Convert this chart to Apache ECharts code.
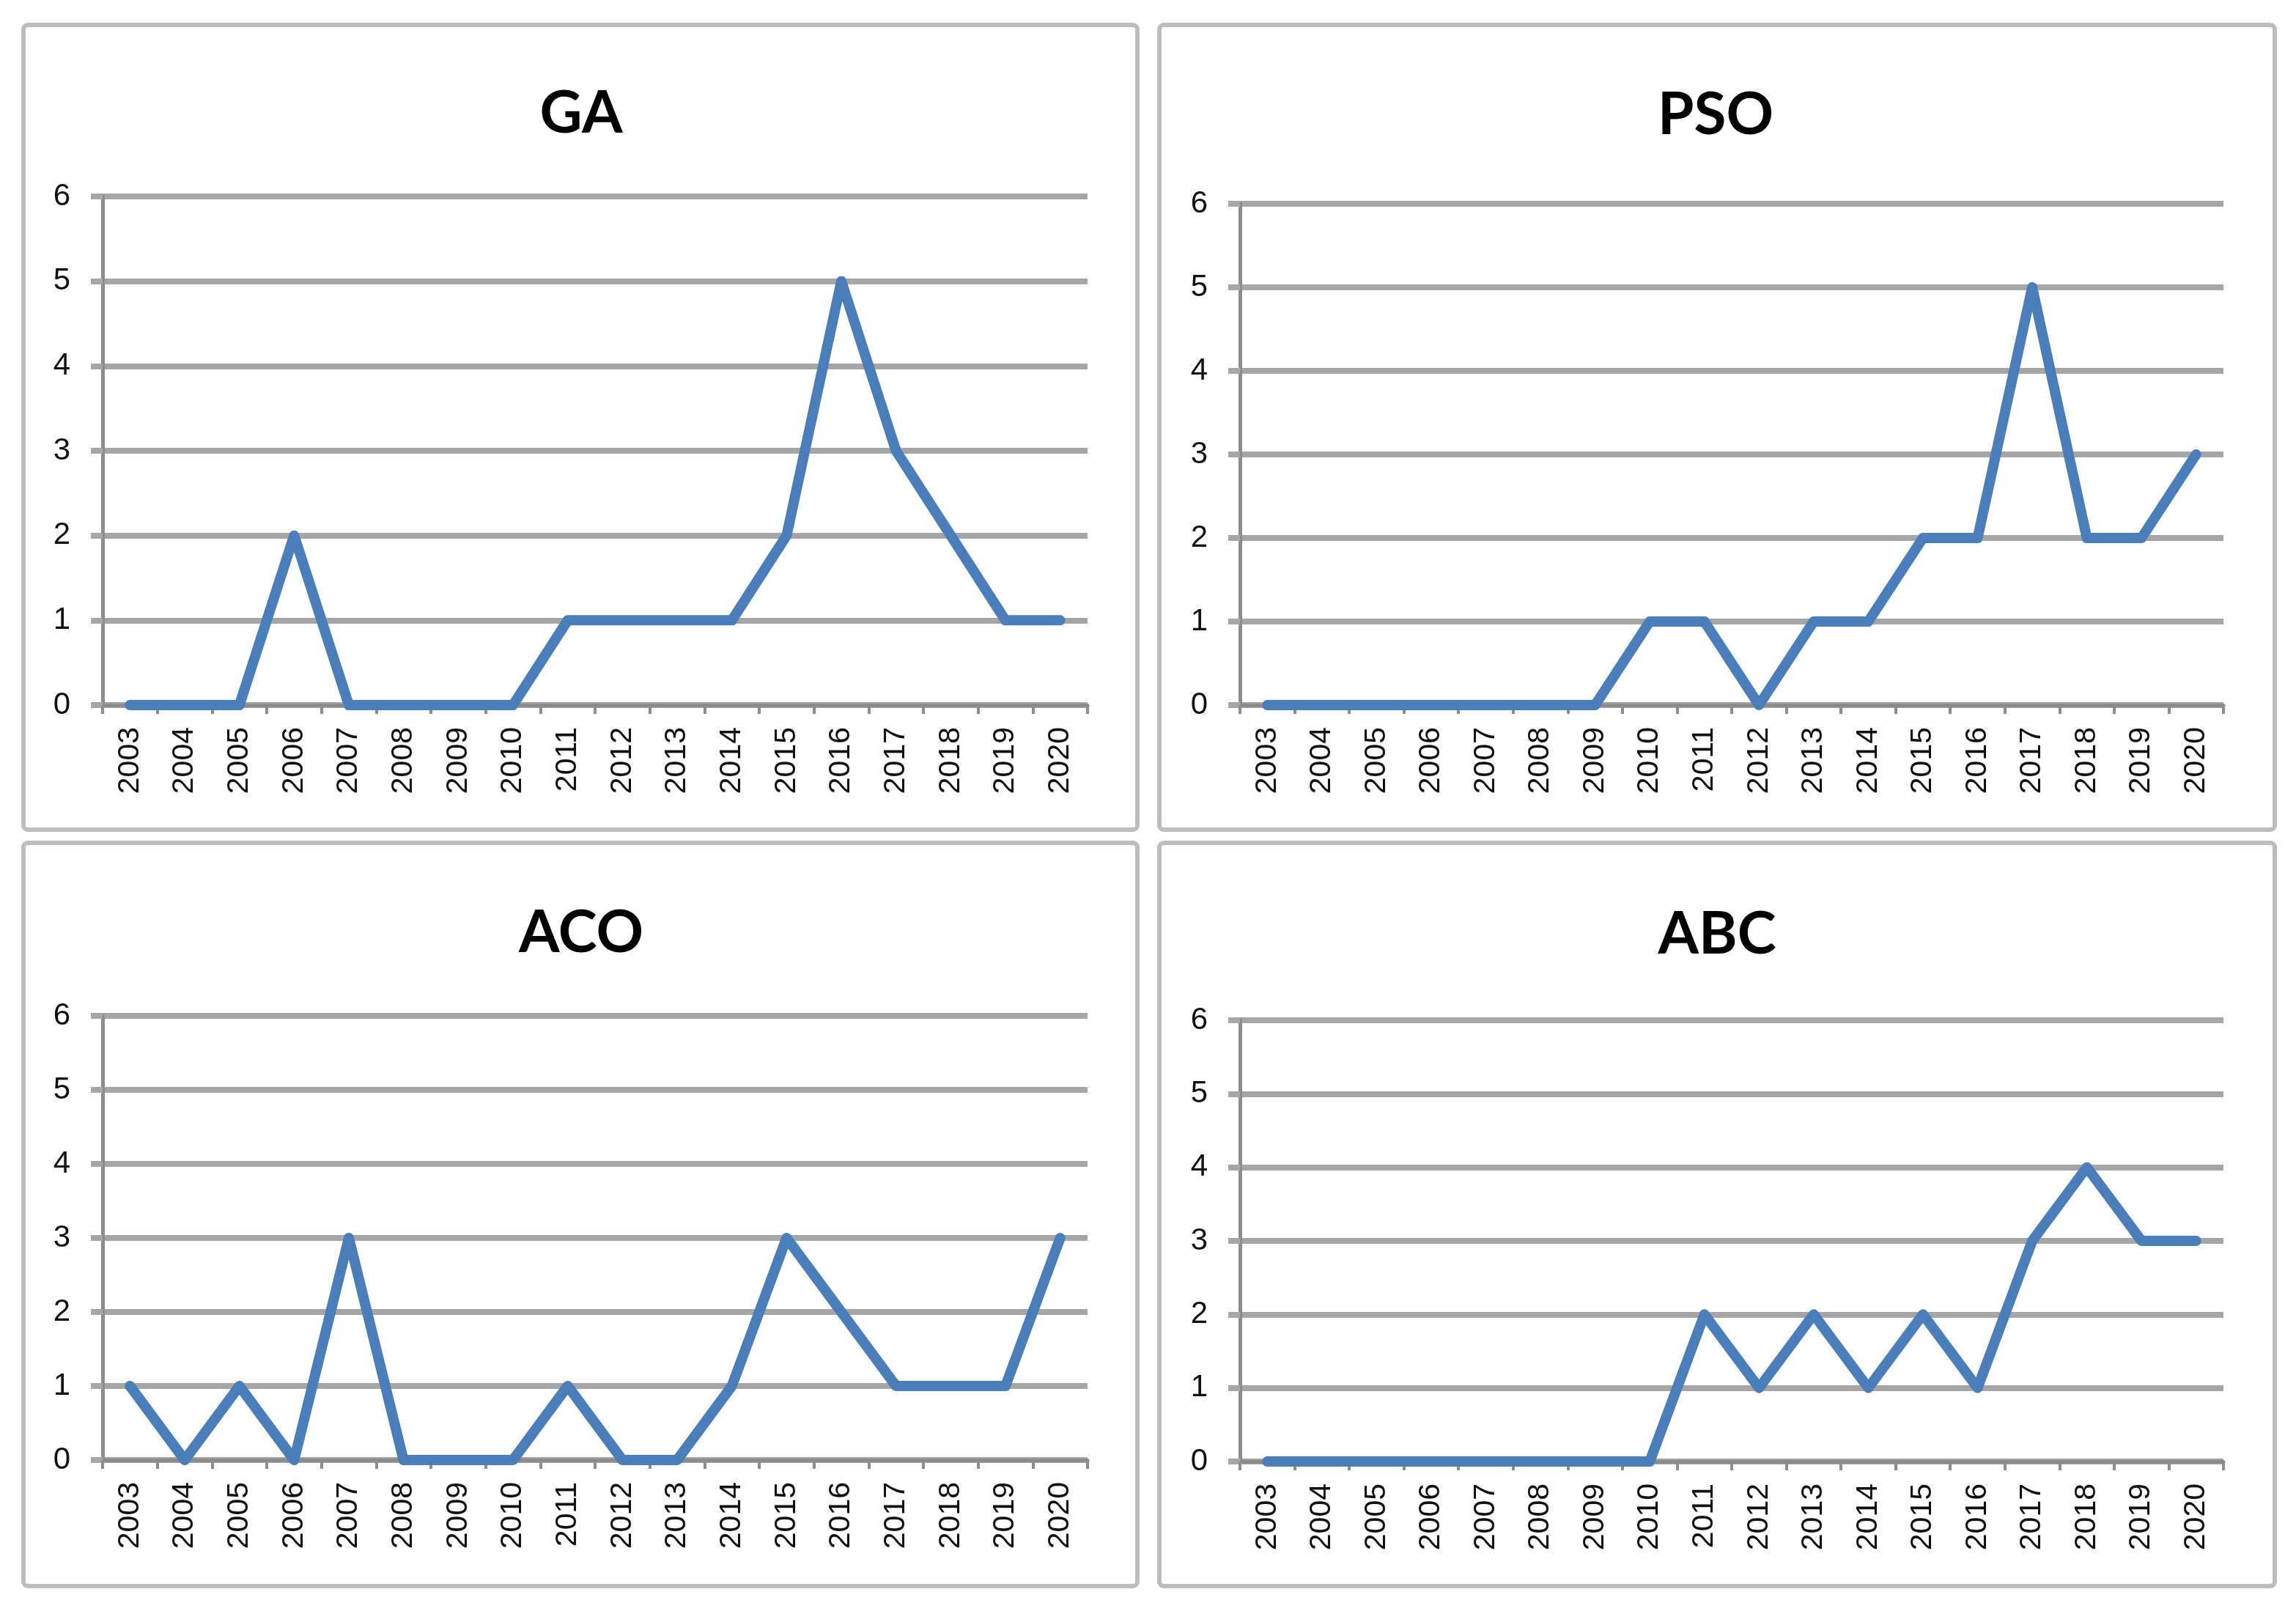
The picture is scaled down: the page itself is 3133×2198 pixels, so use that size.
<!DOCTYPE html>
<html>
<head>
<meta charset="utf-8">
<script src="https://cdn.jsdelivr.net/npm/echarts@6/dist/echarts.min.js"></script>
<style>
html,body{margin:0;padding:0;background:#fff;}
#c{width:3133px;height:2198px;}
</style>
</head>
<body>
<div id="c"></div>
<script>
const years = ['2003','2004','2005','2006','2007','2008','2009','2010','2011','2012','2013','2014','2015','2016','2017','2018','2019','2020'];
const yTicks = [0,1,2,3,4,5,6];
const titles = ['GA','PSO','ACO','ABC'];
const gaValues  = [0,0,0,2,0,0,0,0,1,1,1,1,2,5,3,2,1,1];
const psoValues = [0,0,0,0,0,0,0,1,1,0,1,1,2,2,5,2,2,3];
const acoValues = [1,0,1,0,3,0,0,0,1,0,0,1,3,2,1,1,1,3];
const abcValues = [0,0,0,0,0,0,0,0,2,1,2,1,2,1,3,4,3,3];
const seriesValues = [gaValues, psoValues, acoValues, abcValues];

const panels = [
  {x:32,  y:34,   w:1520, h:1098, grid:{left:140,  top:268,  width:1344, height:694}, tx:788,  ty:150},
  {x:1582,y:34,   w:1522, h:1098, grid:{left:1692, top:278,  width:1342, height:684}, tx:2336, ty:152},
  {x:32,  y:1150, w:1520, h:1014, grid:{left:140,  top:1386, width:1344, height:606}, tx:788,  ty:1268},
  {x:1582,y:1150, w:1522, h:1014, grid:{left:1692, top:1392, width:1342, height:602}, tx:2338, ty:1270}
];

const chart = echarts.init(document.getElementById('c'), null, {renderer:'canvas'});
const option = {
  backgroundColor:'#ffffff',
  animation:false,
  title: titles.map((t,i)=>({
    text:t, left:panels[i].tx, top:panels[i].ty, textAlign:'center', textVerticalAlign:'middle',
    textStyle:{fontFamily:'Lato', fontWeight:'bold', fontSize:80, color:'#000'}
  })),
  graphic: panels.map(p=>({
    type:'rect', shape:{x:p.x, y:p.y, width:p.w, height:p.h, r:6}, z:-1,
    style:{fill:'#fff', stroke:'#BDBDBD', lineWidth:6}
  })),
  grid: panels.map(p=>p.grid),
  xAxis: panels.map((p,i)=>({
    type:'category', gridIndex:i, data:years, boundaryGap:true,
    axisLine:{show:true, lineStyle:{color:'#8C8C8C', width:5}},
    axisTick:{show:true, length:12, lineStyle:{color:'#8C8C8C', width:4}},
    axisLabel:{rotate:90, margin:30, fontFamily:'Liberation Sans', fontSize:41, color:'#111'},
    splitLine:{show:false}
  })),
  yAxis: panels.map((p,i)=>({
    type:'value', gridIndex:i, min:0, max:6, interval:1,
    axisLine:{show:true, lineStyle:{color:'#8C8C8C', width:5}},
    axisTick:{show:true, length:16, lineStyle:{color:'#A6A6A6', width:8}},
    axisLabel:{margin:44, fontFamily:'Liberation Sans', fontSize:42, color:'#111',
      formatter:v=>yTicks.includes(v)?String(v):''},
    splitLine:{show:true, lineStyle:{color:'#A6A6A6', width:8}}
  })),
  series: seriesValues.map((vals,i)=>({
    type:'line', xAxisIndex:i, yAxisIndex:i, data:vals, symbol:'none',
    lineStyle:{color:'#4A7EBB', width:14, join:'round', cap:'round'}, z:5
  }))
};
chart.setOption(option);
</script>
</body>
</html>
